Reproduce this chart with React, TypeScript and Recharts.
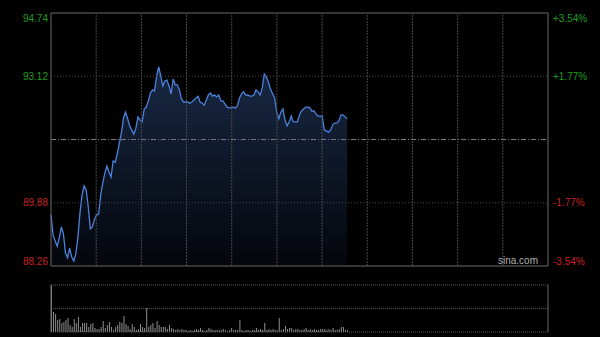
import React from 'react';
import {
  ComposedChart,
  Area,
  XAxis,
  YAxis,
  ReferenceLine,
  ReferenceArea,
  BarChart,
  Bar,
} from 'recharts';

// ---- data ----
const prices: number[] = [
  89.57, 89.05, 88.9, 88.77, 88.98, 89.26, 89.08, 88.59, 88.47, 88.72,
  88.49, 88.39, 88.57, 89.0, 89.62, 90.08, 90.31, 90.21, 89.77, 89.21,
  89.26, 89.46, 89.57, 89.59, 90.08, 90.39, 90.64, 90.82, 90.67, 90.54,
  90.95, 90.92, 91.13, 91.41, 91.67, 92.05, 92.2, 92.03, 91.85, 91.74,
  91.64, 91.79, 92.08, 92.0, 91.95, 92.28, 92.33, 92.49, 92.69, 92.77,
  92.74, 93.13, 93.36, 93.13, 92.87, 93.0, 93.02, 92.87, 92.67, 93.05,
  92.9, 92.9, 92.77, 92.54, 92.46, 92.46, 92.46, 92.43, 92.46, 92.51,
  92.56, 92.61, 92.46, 92.43, 92.38, 92.51, 92.64, 92.69, 92.61, 92.64,
  92.59, 92.64, 92.49, 92.49, 92.41, 92.33, 92.31, 92.31, 92.33, 92.31,
  92.36, 92.56, 92.67, 92.72, 92.64, 92.64, 92.61, 92.61, 92.64, 92.77,
  92.72, 92.64, 92.82, 93.18, 93.1, 92.97, 92.79, 92.67, 92.56, 92.2,
  92.03, 92.2, 92.28, 92.0, 91.85, 91.95, 92.1, 91.95, 91.95, 91.95,
  92.13, 92.23, 92.28, 92.33, 92.33, 92.31, 92.23, 92.23, 92.15, 92.1,
  92.1, 92.1, 91.74, 91.72, 91.69, 91.74, 91.87, 91.92, 91.92, 91.97,
  92.13, 92.13, 92.08, 92.03,
];

const volumes: number[] = [
  4700, 2000, 1800, 1200, 1300, 900, 1000, 1200, 1400, 700,
  500, 1300, 900, 1500, 500, 900, 900, 900, 500, 800,
  900, 400, 300, 300, 500, 1100, 400, 700, 1000, 500,
  200, 500, 700, 1000, 900, 1600, 800, 600, 300, 800,
  500, 200, 300, 800, 500, 400, 2400, 500, 700, 900,
  400, 1100, 700, 500, 500, 500, 300, 700, 400, 300,
  200, 300, 200, 300, 200, 200, 100, 200, 100, 200,
  300, 200, 400, 200, 100, 200, 400, 300, 200, 200,
  200, 200, 200, 300, 200, 100, 200, 400, 200, 200,
  200, 1200, 200, 100, 200, 200, 100, 200, 200, 400,
  200, 300, 200, 900, 200, 300, 200, 300, 200, 200,
  1400, 200, 300, 600, 300, 400, 400, 200, 300, 300,
  200, 200, 300, 400, 200, 300, 200, 300, 200, 200,
  300, 300, 300, 200, 300, 200, 400, 200, 200, 300,
  500, 500, 200, 200,
];

const prevClose = 91.5;
const priceMin = 88.26;
const priceMax = 94.74;
const priceTicks = [88.26, 89.88, 93.12, 94.74];
const pctTicks = [-3.54, -1.77, 1.77, 3.54];
const totalMinutes = 240;
const gridSections = 11;
const volMax = 4700;

const data = prices.map((p, i) => ({ t: i, price: p, vol: volumes[i] }));
const gridX = Array.from({ length: gridSections - 1 }, (_, k) => (totalMinutes * (k + 1)) / gridSections);

const FONT = "'Liberation Sans', Arial, sans-serif";
const GREEN = '#1c9e1c';
const RED = '#c92020';
const GRID = '#4a4a4a';
const BORDER = '#6a6a6a';

const LeftTick = (props: any) => {
  const { x, y, payload } = props;
  const v = payload.value as number;
  const dy = v === priceMax ? 5 : v === priceMin ? -5 : 0;
  return (
    <text x={x} y={y + dy} dy="0.35em" textAnchor="end" fill={v > prevClose ? GREEN : RED} fontSize={10} fontFamily={FONT}>
      {v.toFixed(2)}
    </text>
  );
};

const RightTick = (props: any) => {
  const { x, y, payload } = props;
  const v = payload.value as number;
  const dy = v === pctTicks[pctTicks.length - 1] ? 5 : v === pctTicks[0] ? -5 : 0;
  return (
    <text x={x} y={y + dy} dy="0.35em" textAnchor="start" fill={v > 0 ? GREEN : RED} fontSize={10} fontFamily={FONT}>
      {(v > 0 ? '+' : '') + v.toFixed(2) + '%'}
    </text>
  );
};

export default function App() {
  return (
    <div style={{ position: 'fixed', left: 0, top: 0, width: 600, height: 337, background: '#000', overflow: 'hidden' }}>
      <div style={{ position: 'absolute', left: 0, top: 0 }}>
        <ComposedChart width={600} height={270} data={data} margin={{ top: 13, right: 0, bottom: 4, left: 0 }}>
          <defs>
            <linearGradient id="areaFill" x1="0" y1="0" x2="0" y2="1">
              <stop offset="0%" stopColor="#182844" stopOpacity={1} />
              <stop offset="100%" stopColor="#04060b" stopOpacity={1} />
            </linearGradient>
          </defs>
          <XAxis dataKey="t" type="number" domain={[0, totalMinutes]} hide />
          <YAxis
            yAxisId="price"
            orientation="left"
            type="number"
            domain={[priceMin, priceMax]}
            allowDataOverflow
            ticks={priceTicks}
            interval={0}
            width={51}
            axisLine={false}
            tickLine={false}
            tickSize={0}
            tickMargin={3}
            tick={<LeftTick />}
          />
          <YAxis
            yAxisId="pct"
            orientation="right"
            type="number"
            domain={[pctTicks[0], pctTicks[pctTicks.length - 1]]}
            allowDataOverflow
            ticks={pctTicks}
            interval={0}
            width={52}
            axisLine={false}
            tickLine={false}
            tickSize={0}
            tickMargin={5}
            tick={<RightTick />}
          />
          <Area
            yAxisId="price"
            type="linear"
            dataKey="price"
            stroke="#4b82dd"
            strokeWidth={1.3}
            fill="url(#areaFill)"
            fillOpacity={1}
            baseValue={priceMin}
            dot={false}
            activeDot={false}
            isAnimationActive={false}
          />
          {gridX.map((gx) => (
            <ReferenceLine key={'gx' + gx} yAxisId="price" x={gx} stroke={GRID} strokeDasharray="2 1" />
          ))}
          {[89.88, 93.12].map((gy) => (
            <ReferenceLine key={'gy' + gy} yAxisId="price" y={gy} stroke={GRID} strokeDasharray="1 2" />
          ))}
          <ReferenceLine yAxisId="price" y={prevClose} stroke="#7a7a7a" strokeDasharray="5 2 1 2" />
          <ReferenceArea
            yAxisId="price"
            x1={0}
            x2={totalMinutes}
            y1={priceMin}
            y2={priceMax}
            fill="none"
            fillOpacity={0}
            stroke={BORDER}
            strokeWidth={1}
          />
        </ComposedChart>
      </div>
      <div
        style={{
          position: 'absolute',
          left: 498,
          top: 255,
          color: '#b0b0b0',
          fontSize: 10,
          fontFamily: FONT,
          lineHeight: '12px',
        }}
      >
        sina.com
      </div>
      <div style={{ position: 'absolute', left: 0, top: 272 }}>
        <BarChart width={600} height={65} data={data} margin={{ top: 13, right: 52, bottom: 5, left: 51 }}>
          <XAxis dataKey="t" type="number" domain={[0, totalMinutes]} hide />
          <YAxis type="number" domain={[0, volMax]} allowDataOverflow hide />
          <Bar dataKey="vol" fill="#8e8e8e" barSize={1} isAnimationActive={false} />
          {[0, volMax / 2, volMax].map((vy) => (
            <ReferenceLine key={'vy' + vy} y={vy} stroke="#5a5a5a" strokeDasharray="1 1" />
          ))}
          <ReferenceLine x={0} stroke={BORDER} />
          <ReferenceLine x={totalMinutes} stroke={BORDER} />
        </BarChart>
      </div>
    </div>
  );
}
